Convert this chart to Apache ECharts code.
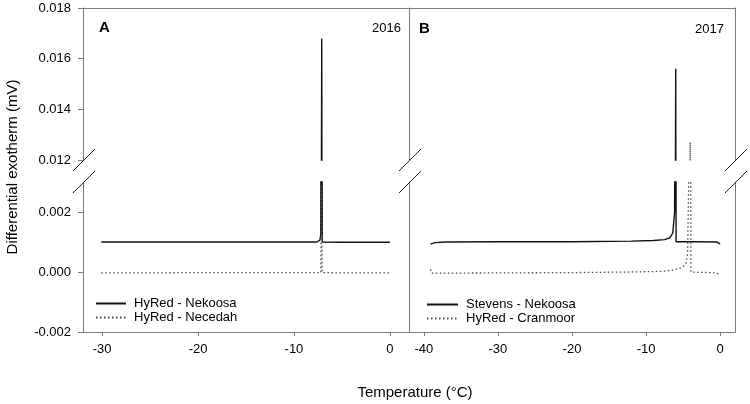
<!DOCTYPE html>
<html>
<head>
<meta charset="utf-8">
<script src="https://cdn.jsdelivr.net/npm/echarts@6/dist/echarts.min.js"></script>
<style>html,body{margin:0;padding:0;background:#fff}#c{width:750px;height:404px}</style>
</head>
<body>
<div id="c"></div>
<script>
// ---- Data (temperature °C, differential exotherm mV) ----
var seriesNames = ['HyRed - Nekoosa', 'HyRed - Necedah', 'Stevens - Nekoosa', 'HyRed - Cranmoor'];
var hyRedNekoosa = [[-30.1,0.00100],[-25,0.00100],[-20,0.00100],[-15,0.00100],[-10,0.00100],[-7.6,0.00100],[-7.3,0.00106],[-7.2,0.00125],[-7.1,0.01680],[-7.05,0.00100],[-5,0.00099],[-2,0.00099],[0,0.00099]];
var hyRedNecedah = [[-30.1,-0.00003],[-25,-0.00003],[-20,-0.00002],[-15,-0.00002],[-10,-0.00002],[-7.2,-0.00002],[-7.12,0.00290],[-7.05,-0.00002],[-5,-0.00003],[-2,-0.00003],[0,-0.00003]];
var stevensNekoosa = [[-39.1,0.00093],[-38.5,0.00098],[-37,0.00100],[-30,0.00101],[-20,0.00101],[-12,0.00103],[-9,0.00105],[-7.5,0.00108],[-6.8,0.00114],[-6.4,0.00130],[-6.15,0.00200],[-6.0,0.01560],[-5.95,0.00101],[-3,0.00101],[-0.5,0.00100],[0,0.00094]];
var hyRedCranmoor = [[-39.1,0.00009],[-38.9,-0.00004],[-30,-0.00003],[-20,-0.00002],[-12,0.00000],[-8,0.00002],[-6.5,0.00006],[-5.5,0.00012],[-5,0.00018],[-4.6,0.00030],[-4.4,0.00060],[-4.25,0.00300],[-4.05,0.01270],[-3.95,0.00000],[-3,-0.00001],[-1,-0.00002],[0,-0.00007]];
var xTicksA = [-30,-20,-10,0];
var xTicksB = [-40,-30,-20,-10,0];
var yTicksUpper = [0.012, 0.014, 0.016, 0.018];
var yTicksLower = [-0.002, 0.000, 0.002];
var xRangeA = [-32, 2];
var xRangeB = [-42, 2];
var yUpper = [0.012, 0.018];
var yLower = [-0.002, 0.003];
var panelLabels = ['A', 'B'];
var yearLabels = ['2016', '2017'];
var xTitle = 'Temperature (°C)';
var yTitle = 'Differential exotherm (mV)';

var FONT = 'Liberation Sans, Arial, sans-serif';
var AXC = '#7a7a7a';
var chart = echarts.init(document.getElementById('c'), null, {renderer: 'canvas'});

var grids = [
  {left: 83, top: 8, width: 326, height: 152},
  {left: 83, top: 182, width: 326, height: 150},
  {left: 409, top: 8, width: 326, height: 152},
  {left: 409, top: 182, width: 326, height: 150}
];

function xAx(gi, range, ticks, bottom) {
  return {
    type: 'value', gridIndex: gi, min: range[0], max: range[1],
    position: bottom ? 'bottom' : 'top',
    splitLine: {show: false},
    axisLine: {show: true, onZero: false, lineStyle: {color: AXC, width: 1}},
    axisTick: {show: bottom, length: 4, lineStyle: {color: AXC}, customValues: ticks},
    axisLabel: {show: bottom, margin: 11, color: '#000', fontSize: 13, fontFamily: FONT, customValues: ticks}
  };
}
function yAx(gi, range, ticks, labels, pos) {
  return {
    type: 'value', gridIndex: gi, min: range[0], max: range[1],
    position: pos || 'left',
    splitLine: {show: false},
    axisLine: {show: true, onZero: false, lineStyle: {color: AXC, width: 1}},
    axisTick: {show: labels, length: 5, lineStyle: {color: AXC}, customValues: ticks},
    axisLabel: {show: labels, margin: 12, color: '#000', fontSize: 13, fontFamily: FONT, customValues: ticks,
      formatter: function (v) { return v.toFixed(3); }}
  };
}

var solidStyle = {color: '#111', width: 1.4, type: 'solid'};
var dotStyle = {color: '#4a4a4a', width: 1.3, type: [1.5, 2.5]};

function ser(name, data, gi, style) {
  return {
    name: name, type: 'line', xAxisIndex: gi, yAxisIndex: gi, data: data,
    showSymbol: false, symbol: 'none', clip: true, animation: false,
    lineStyle: style, itemStyle: {color: style.color}
  };
}

var legendText = {fontSize: 13, fontFamily: FONT, color: '#000', padding: [0,0,0,3]};
var option = {
  animation: false,
  grid: grids,
  xAxis: [
    xAx(0, xRangeA, xTicksA, false),
    xAx(1, xRangeA, xTicksA, true),
    xAx(2, xRangeB, xTicksB, false),
    xAx(3, xRangeB, xTicksB, true)
  ],
  yAxis: [
    yAx(0, yUpper, yTicksUpper, true),
    yAx(1, yLower, yTicksLower, true),
    yAx(2, yUpper, yTicksUpper, false),
    yAx(3, yLower, yTicksLower, false),
    yAx(2, yUpper, yTicksUpper, false, 'right'),
    yAx(3, yLower, yTicksLower, false, 'right')
  ],
  legend: [
    {data: [seriesNames[0], seriesNames[1]], orient: 'vertical', left: 90, top: 292,
      itemWidth: 30, itemHeight: 10, itemGap: 1, itemStyle: {opacity: 0}, textStyle: legendText},
    {data: [seriesNames[2], seriesNames[3]], orient: 'vertical', left: 421, top: 293,
      itemWidth: 31, itemHeight: 10, itemGap: 1, itemStyle: {opacity: 0}, textStyle: legendText}
  ],
  series: [
    ser(seriesNames[0], hyRedNekoosa, 0, solidStyle),
    ser(seriesNames[0], hyRedNekoosa, 1, solidStyle),
    ser(seriesNames[1], hyRedNecedah, 0, dotStyle),
    ser(seriesNames[1], hyRedNecedah, 1, dotStyle),
    ser(seriesNames[2], stevensNekoosa, 2, solidStyle),
    ser(seriesNames[2], stevensNekoosa, 3, solidStyle),
    ser(seriesNames[3], hyRedCranmoor, 2, dotStyle),
    ser(seriesNames[3], hyRedCranmoor, 3, dotStyle)
  ]
};
chart.setOption(option);

// ---- Decorations: break marks, panel labels, axis titles ----
function px(gi, pt) { return chart.convertToPixel({xAxisIndex: gi, yAxisIndex: gi}, pt); }
var g = [];
function slash(cx, cy) {
  g.push({type: 'line', shape: {x1: cx - 11, y1: cy + 11, x2: cx + 11, y2: cy - 11},
    style: {stroke: '#222', lineWidth: 1}, z: 10});
}
var breakXs = [px(0, [xRangeA[0], 0])[0], px(2, [xRangeB[0], 0])[0], px(2, [xRangeB[1], 0])[0]];
var yUpBottom = px(0, [0, yUpper[0]])[1];
var yLowTop = px(1, [0, yLower[1]])[1];
breakXs.forEach(function (bx) { slash(bx + 1, yUpBottom); slash(bx + 1, yLowTop); });

var aTop = px(0, [xRangeA[0], yUpper[1]]);
var aRight = px(0, [xRangeA[1], yUpper[1]]);
var bTop = px(2, [xRangeB[0], yUpper[1]]);
var bRight = px(2, [xRangeB[1], yUpper[1]]);
g.push({type: 'text', x: aTop[0] + 16, y: aTop[1] + 20, style: {text: panelLabels[0], font: 'bold 15px ' + FONT, fill: '#000', verticalAlign: 'middle', align: 'left'}});
g.push({type: 'text', x: bTop[0] + 10, y: bTop[1] + 21, style: {text: panelLabels[1], font: 'bold 15px ' + FONT, fill: '#000', verticalAlign: 'middle', align: 'left'}});
g.push({type: 'text', x: aRight[0] - 8, y: aRight[1] + 20, style: {text: yearLabels[0], font: '13px ' + FONT, fill: '#000', verticalAlign: 'middle', align: 'right'}});
g.push({type: 'text', x: bRight[0] - 11, y: bRight[1] + 21, style: {text: yearLabels[1], font: '13px ' + FONT, fill: '#000', verticalAlign: 'middle', align: 'right'}});
g.push({type: 'text', x: 13, y: 167, rotation: Math.PI / 2, style: {text: yTitle, font: '15px ' + FONT, fill: '#000', verticalAlign: 'middle', align: 'center'}});
g.push({type: 'text', x: 415, y: 393, style: {text: xTitle, font: '15px ' + FONT, fill: '#000', verticalAlign: 'middle', align: 'center'}});
chart.setOption({graphic: g});
</script>
</body>
</html>
